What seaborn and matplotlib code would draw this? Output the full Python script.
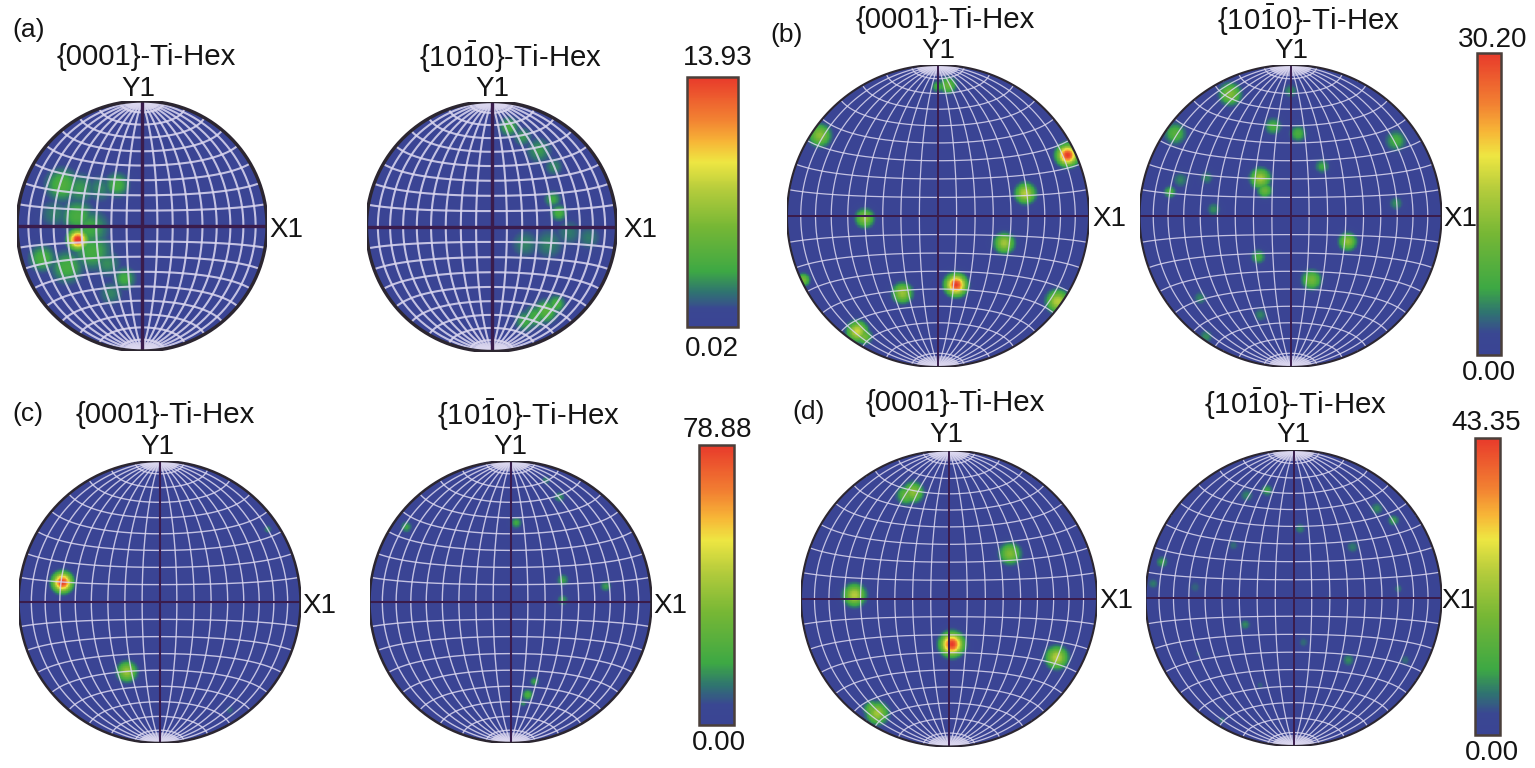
# %%
import numpy as np
import matplotlib.pyplot as plt
from matplotlib.colors import LinearSegmentedColormap
import seaborn as sns

sns.set_theme(style='white')
plt.rcParams['font.family'] = ['Liberation Sans', 'DejaVu Sans']
plt.rcParams['mathtext.fontset'] = 'custom'
plt.rcParams['mathtext.rm'] = 'Liberation Sans'

# %%
# --- intensity ---
BAR_MAX = [13.93, 30.20, 78.88, 43.35]
BAR_MIN = [0.02, 0.00, 0.00, 0.00]
BAR_LABELS = ['13.93', '30.20', '78.88', '43.35']
BAR_LOW_LABELS = ['0.02', '0.00', '0.00', '0.00']
PANEL_TAGS = ['(a)', '(b)', '(c)', '(d)']
TITLE_0001 = '{0001}-Ti-Hex'
TITLE_1010 = r'{10$\mathdefault{\bar{1}}$0}-Ti-Hex'

# poles: x, y on the unit projection circle, peak intensity, spread
A_0001 = [(-.515, -.11, 14.5, .05), (-.64, .33, 3.9, .1), (-.5, .3, 2.8, .1), (-.2, .33, 3.5, .075),
          (-.34, .3, 2.3, .09), (-.52, .08, 3.6, .1), (-.7, .1, 2.2, .1), (-.8, -.26, 3.7, .08),
          (-.6, -.33, 3.5, .1), (-.4, -.2, 3.4, .12), (-.42, -.02, 3.2, .12), (-.14, -.42, 3.3, .07),
          (-.25, -.54, 2.3, .08), (-.28, -.3, 2.5, .09)]
A_1010 = [(.14, .8, 3.5, .06), (.25, .72, 2.7, .06), (.38, .61, 2.8, .08), (.5, .48, 2.4, .06), (.54, .11, 3.6, .05),
          (.49, .22, 3.2, .05), (.27, -.14, 2.3, .09), (.46, -.14, 2.3, .1), (.78, -.09, 2.1, .08),
          (.62, -.05, 2.1, .09), (.435, -.68, 4.2, .07), (.27, -.76, 3.2, .065), (.52, -.62, 3.6, .055),
          (.35, -.72, 3.4, .07)]
B_0001 = [(.066, .868, 10.6, .04), (.0, .86, 8.0, .03), (-.784, .536, 13.6, .05), (.86, .404, 30.2, .045),
          (.58, .15, 16.6, .045), (-.486, -.015, 13.6, .042), (.44, -.18, 15.1, .045), (.12, -.457, 30.2, .045),
          (-.236, -.512, 14.5, .045), (-.536, -.766, 18.1, .045), (-.49, -.8, 12.0, .035), (.795, -.567, 16.6, .05),
          (-.894, -.424, 12.1, .03)]
B_1010 = [(-.40, .81, 12.7, .05), (.0, .83, 5.5, .035), (-.115, .596, 8.0, .04), (.05, .547, 8.0, .04),
          (-.766, .547, 9.1, .05), (.70, .50, 7.6, .05), (-.2, .25, 15.1, .045), (-.17, .17, 10.6, .035),
          (.21, .33, 6.8, .035), (-.556, .254, 5.0, .035), (-.8, .16, 8.0, .03), (-.73, .24, 5.0, .04),
          (-.51, .044, 5.4, .035), (.70, .084, 5.4, .035), (.38, -.17, 13.6, .04), (-.214, -.27, 7.6, .035),
          (.14, -.424, 11.5, .045), (-.6, -.545, 5.0, .035), (-.2, -.656, 5.0, .035), (-.56, -.8, 5.4, .035)]
C_0001 = [(-.69, .14, 78.88, .045), (-.232, -.495, 37.9, .048), (.77, .517, 13.5, .022), (.50, -.77, 10.0, .025),
          (.365, -.057, 9.0, .01)]
C_1010 = [(-.74, .534, 17.0, .03), (.04, .563, 18.0, .03), (.253, .865, 13.0, .025), (.347, .747, 15.0, .03),
          (.37, .156, 17.0, .032), (.37, .014, 15.5, .03), (.678, .113, 16.0, .03), (.123, -.66, 21.0, .03),
          (.17, -.565, 17.0, .025), (.09, -.72, 14.0, .02)]
D_0001 = [(-.243, .72, 19.5, .047), (-.29, .7, 15.0, .045), (.414, .304, 18.2, .05), (-.64, .023, 23.8, .05),
          (.02, -.31, 43.35, .05), (.73, -.40, 23.8, .05), (-.486, -.777, 21.7, .05), (-.52, -.75, 16.0, .04)]
D_1010 = [(-.18, .73, 9.5, .03), (-.316, .695, 7.0, .035), (.564, .605, 7.5, .035), (.677, .526, 9.0, .03),
          (.045, .47, 7.0, .03), (.40, .345, 6.5, .035), (-.406, .357, 5.5, .03), (-.89, .244, 9.0, .03),
          (-.95, .097, 6.5, .03), (-.666, .074, 5.0, .035), (.71, .063, 6.0, .025), (.24, 0, 5.0, .018),
          (-.327, -.18, 7.5, .028), (.068, -.3, 5.5, .03), (.372, -.42, 7.5, .033), (.756, -.42, 5.5, .03),
          (-.645, -.377, 5.0, .018), (-.226, -.59, 4.8, .025), (-.485, -.828, 7.0, .02)]
SPOTS = [(A_0001, A_1010), (B_0001, B_1010), (C_0001, C_1010), (D_0001, D_1010)]

# %%
# --- layout in reference pixels ---
W, H = 1535, 768
# centre x, centre y, radius of each projection circle
CIRCLES = [((142, 226, 125), (491.5, 226.5, 125)),
           ((938, 216, 151), (1290.5, 216, 151)),
           ((159.5, 602, 141), (510.5, 602, 141)),
           ((949, 598.5, 148), (1293.5, 598, 148))]
BARS = [(687, 77, 738, 327), (1477, 53, 1501, 355), (699, 445, 734, 725), (1475, 438, 1500, 735)]
TAG_POS = [(12, 28), (770, 33), (12, 412), (792, 410)]
TITLE_POS = [((146, 55), (510, 55)), ((945, 18), (1308, 18)), ((165, 413), (528, 413)), ((955, 401), (1295, 402))]
Y1_POS = [((138, 87), (492, 87)), ((938, 49), (1291, 49)), ((157, 445), (510, 445)), ((946, 433), (1293, 433))]
X1_POS = [((269, 228), (623, 228)), ((1092, 217), (1443, 217)), ((302, 604), (653, 604)), ((1099, 599), (1441, 599))]
BAR_TOP_POS = [(718, 56), (1493, 38), (717, 428), (1486, 421)]
BAR_LOW_POS = [(712, 347), (1489, 371), (719, 741), (1492, 751)]
NET_LW = [1.5, 0.9, 1.0, 0.9]
AXIS_LW = [2.4, 1.4, 1.5, 1.4]
EDGE_LW = [2.4, 1.5, 1.8, 1.5]

ebsd = LinearSegmentedColormap.from_list('ebsd', [
    (0.00, '#3a4494'), (0.07, '#3a4792'), (0.14, '#2f7470'), (0.22, '#3da844'), (0.40, '#76b735'),
    (0.55, '#b5cc3c'), (0.66, '#eee642'), (0.74, '#f7b637'), (0.83, '#f28232'), (1.00, '#e83a2b')], N=256)

GRID_N = 420
gu, gv = np.meshgrid(np.linspace(-1, 1, GRID_N), np.linspace(1, -1, GRID_N))
outside = gu ** 2 + gv ** 2 > 1


def density(spots, low):
    z = np.full(gu.shape, float(low))
    for x, y, peak, s in spots:
        z = np.maximum(z, peak * np.exp(-((gu - x) ** 2 + (gv - y) ** 2) / (2 * s ** 2)))
    return z


def net_line(lon, lat):
    # equal-area (Schmidt) projection of the graticule
    lon, lat = np.radians(lon), np.radians(lat)
    px = np.cos(lat) * np.sin(lon)
    py = np.sin(lat) * np.ones_like(px)
    pz = np.cos(lat) * np.cos(lon)
    k = np.sqrt(1 / (1 + pz))
    return px * k, py * k


def box(x0, y0, x1, y1):
    return [x0 / W, 1 - y1 / H, (x1 - x0) / W, (y1 - y0) / H]


fig = plt.figure(figsize=(W / 100, H / 100), dpi=100)
fig.patch.set_facecolor('white')


def put(pos, s, **kw):
    kw.setdefault('fontsize', 20)
    kw.setdefault('va', 'center')
    kw.setdefault('ha', 'center')
    fig.text(pos[0] / W, 1 - (pos[1] + 2) / H, s, color='#141414', **kw)


# %%
for i in range(4):
    cax = fig.add_axes(box(*BARS[i]))
    for j in range(2):
        cx, cy, r = CIRCLES[i][j]
        ax = fig.add_axes(box(cx - r, cy - r, cx + r, cy + r))
        z = density(SPOTS[i][j], BAR_MIN[i])
        sns.heatmap(z, ax=ax, mask=outside, cmap=ebsd, vmin=BAR_MIN[i], vmax=BAR_MAX[i],
                    xticklabels=False, yticklabels=False, cbar=(j == 0),
                    cbar_ax=cax if j == 0 else None, cbar_kws={'ticks': []})
        if j == 0:
            cb = ax.collections[0].colorbar
            cb.outline.set_edgecolor('#4a3f3a')
            cb.outline.set_linewidth(1.8)
        ax.patch.set_alpha(0)

        net = fig.add_axes(box(cx - r, cy - r, cx + r, cy + r), facecolor='none')
        net.set_xlim(-1, 1)
        net.set_ylim(-1, 1)
        net.axis('off')
        t = np.linspace(-90, 90, 181)
        for lon in range(-80, 81, 10):
            if lon != 0:
                net.plot(*net_line(np.full_like(t, lon), t), color='#dcd8f0', lw=NET_LW[i], alpha=0.85)
        for lat in range(-80, 81, 10):
            if lat != 0:
                net.plot(*net_line(t, np.full_like(t, lat)), color='#dcd8f0', lw=NET_LW[i], alpha=0.85)
        # pale caps round the poles, where the meridians crowd together
        cap = np.linspace(82, 90, 12)
        for lon in range(-90, 91, 4):
            for sign in (1, -1):
                net.plot(*net_line(np.full_like(cap, lon), sign * cap), color='#dcd8f0', lw=0.8, alpha=0.7)
        net.plot([-1, 1], [0, 0], color='#3a1c4c', lw=AXIS_LW[i])
        net.plot([0, 0], [-1, 1], color='#3a1c4c', lw=AXIS_LW[i])
        a = np.linspace(0, 2 * np.pi, 400)
        net.plot(np.cos(a), np.sin(a), color='#2c2630', lw=EDGE_LW[i])

        put(TITLE_POS[i][j], TITLE_0001 if j == 0 else TITLE_1010, fontsize=21.2)
        put(Y1_POS[i][j], 'Y1')
        put(X1_POS[i][j], 'X1', ha='left')
    put(TAG_POS[i], PANEL_TAGS[i], ha='left', fontsize=19)
    put(BAR_TOP_POS[i], BAR_LABELS[i])
    put(BAR_LOW_POS[i], BAR_LOW_LABELS[i])

fig.savefig('out.png', dpi=100)
